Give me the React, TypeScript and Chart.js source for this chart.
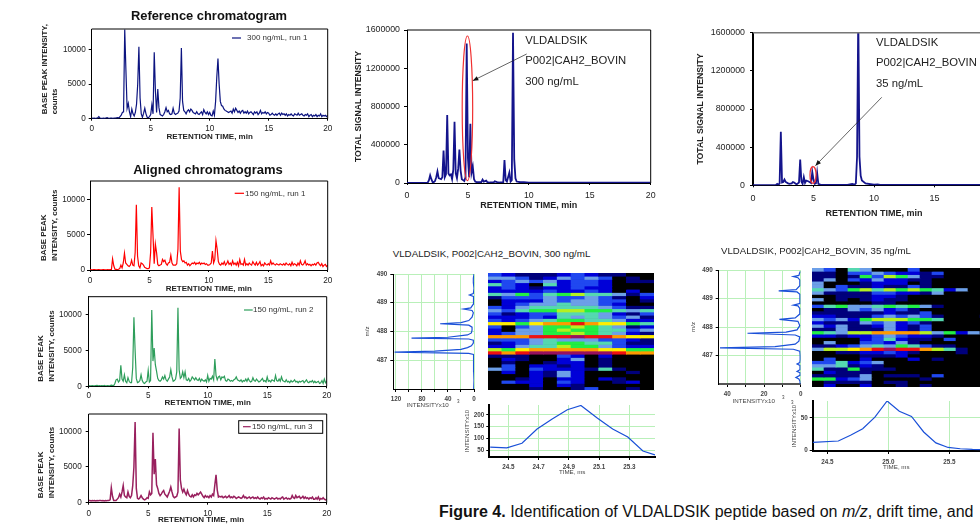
import React, { useEffect, useRef } from "react";
import { Chart, registerables } from "chart.js";

Chart.register(...registerables);

// ---------- data ----------
const run300a = [
  100,50,100,50,80,120,300,100,60,50,
  80,50,100,150,80,60,100,80,60,100,
  80,120,150,100,300,500,900,1000,12900,7000,
  1500,2200,1000,300,1400,700,400,900,2100,5000,
  10400,3000,700,200,800,1500,700,200,150,300,
  600,2000,700,9600,4000,900,4300,1600,600,500,
  400,600,1000,1600,1000,1200,700,600,700,1500,
  800,600,700,800,1100,3000,10200,2500,1200,1000,
  700,1100,1300,1000,1400,1200,900,800,700,1000,
  700,600,800,1000,600,1300,900,700,1000,600,
  900,500,400,1100,500,2500,6000,8700,5000,2500,
  1900,1800,1400,1200,1100,1000,900,1000,1100,800,
  1400,1000,1500,1200,900,1100,800,1100,1200,800,
  1000,800,1100,700,900,1000,800,600,1000,800,
  1000,600,800,1200,700,900,800,1000,700,900,
  800,500,600,800,600,500,700,500,700,800,
  500,800,600,700,500,700,400,600,500,700,
  500,400,700,600,500,800,500,600,700,500,
  400,600,500,700,300,500,600,300,500,400,
  600,300,500,400,700,300,500,400,500,300,
  500,
];
const run150a = [
  60,40,30,50,40,30,20,60,40,30,
  30,60,40,30,20,40,30,50,30,1600,
  600,100,80,60,100,200,700,300,1000,2400,
  1000,800,600,500,700,1400,700,600,2500,9300,
  2000,600,300,1000,900,700,400,300,200,200,
  300,2500,9000,5000,900,3700,2500,800,600,700,
  800,1500,1200,1400,900,700,1000,1100,2100,1000,
  700,700,700,900,3000,11800,2700,1500,1200,1300,
  1000,1100,700,900,600,800,1000,900,1100,800,
  1000,900,1100,800,1000,900,1000,800,900,700,
  700,800,1000,2700,1000,1500,4200,3000,1200,800,
  700,1000,800,1200,700,900,1300,800,1000,700,
  1300,800,1000,700,1100,600,1500,800,900,700,
  1500,700,900,700,1000,800,700,1200,900,700,
  1100,700,900,1200,600,800,600,1000,800,700,
  900,700,1300,800,1000,800,700,900,800,700,
  900,800,700,900,700,1000,800,700,900,600,
  1100,700,900,800,600,1000,700,1300,800,700,
  900,1300,700,900,700,800,600,800,700,900,
  700,1000,1100,800,600,900,500,700,800,500,
  700,
];
const run150b = [
  100,50,80,100,60,50,100,120,60,80,
  60,100,50,120,80,60,100,70,90,150,
  120,100,400,900,1000,600,800,2900,1000,700,
  1600,700,500,1200,700,500,500,2600,9600,5000,
  1100,500,600,800,1600,800,500,400,600,700,
  2200,600,800,10600,3500,5300,3000,2100,1100,800,
  700,900,1300,1000,1500,900,700,1000,1300,2300,
  1300,700,800,1000,2000,10900,2300,1100,1300,2000,
  1200,2000,900,800,1100,700,900,1300,1100,900,
  1200,900,800,1100,700,1000,800,700,900,600,
  1500,700,1100,1000,1400,900,3800,1500,900,1300,
  1400,900,1300,1200,1400,800,700,1000,900,700,
  800,700,900,1000,1300,900,800,700,900,600,
  800,700,1000,700,1100,800,600,700,1200,800,
  700,1000,800,600,700,900,1100,700,800,600,
  1300,700,800,600,900,800,700,1500,800,700,
  1000,700,1300,800,700,600,900,600,700,500,
  800,600,700,900,600,700,500,700,600,700,
  800,500,700,900,600,500,700,600,800,500,
  700,500,600,700,400,500,800,400,1000,500,
  700,
];
const run150c = [
  300,300,250,300,280,300,250,300,280,300,
  300,280,300,250,300,280,300,300,400,2100,
  900,300,300,300,500,700,1200,800,1500,2400,
  1000,800,700,1500,900,700,1000,2400,5000,11300,
  2000,600,500,700,1000,700,500,400,500,700,
  600,1500,1100,1300,9800,4000,6100,2500,2000,1300,
  1000,1200,1500,1700,1200,1000,800,1200,1600,2200,
  1500,900,700,800,900,1500,10400,3200,2000,1500,
  1900,1400,1100,1700,1200,900,800,1100,800,1100,
  1000,1300,1100,1300,1500,1200,900,700,1000,800,
  900,700,1000,800,1200,1000,2500,3900,1800,800,
  900,800,900,700,800,900,700,800,1000,700,
  800,700,900,800,600,700,800,700,600,700,
  1000,700,800,600,700,800,600,700,800,600,
  700,600,800,600,500,700,600,800,500,600,
  500,700,600,500,700,600,500,600,700,500,
  600,500,700,800,500,600,700,500,600,500,
  600,1000,700,600,1000,700,800,900,600,700,
  900,600,800,600,700,500,700,600,800,500,
  500,700,500,800,400,600,500,700,500,400,
  500,
];

const tic300Times = [0,1.7,1.8,1.9,2.0,2.1,2.2,2.3,2.4,2.5,2.6,2.8,2.9,3.0,3.1,3.2,3.3,3.4,3.5,3.6,3.7,3.8,3.9,4.0,4.1,4.2,4.3,4.4,4.5,4.6,4.7,4.8,4.9,5.0,5.1,5.2,5.3,5.4,5.5,5.6,5.7,5.9,6.1,6.2,6.3,6.5,6.6,6.8,7.1,7.2,7.4,7.6,7.9,8.0,8.1,8.2,8.4,8.5,8.6,8.7,8.8,8.9,9.0,9.3,9.6,10,20];
const tic300Values = [2000,3000,30000,80000,40000,10000,10000,20000,60000,120000,50000,40000,60000,340000,60000,90000,710000,100000,80000,90000,40000,140000,640000,100000,50000,150000,350000,130000,40000,30000,20000,60000,1460000,260000,60000,620000,110000,170000,40000,15000,10000,8000,10000,35000,15000,25000,8000,5000,5000,18000,10000,5000,8000,240000,30000,15000,110000,15000,30000,1570000,250000,50000,15000,8000,10000,3000,3000];
const tic35Times = [0,1.9,2.0,2.1,2.2,2.3,2.4,2.5,2.6,2.7,2.9,3.0,3.2,3.3,3.4,3.6,3.8,3.9,4.0,4.1,4.2,4.3,4.4,4.6,4.8,4.9,5.0,5.1,5.2,5.3,5.4,5.6,7.8,8.2,8.4,8.5,8.6,8.7,8.8,8.9,9.0,9.3,10.0,10.3,10.5,20];
const tic35Values = [2000,3000,15000,5000,20000,560000,30000,35000,60000,35000,20000,15000,20000,35000,30000,10000,30000,270000,40000,15000,85000,25000,50000,40000,25000,140000,60000,15000,20000,130000,15000,5000,5000,15000,8000,20000,300000,1800000,300000,100000,50000,20000,6000,10000,4000,3000];

const profile300Mz = [486.0,486.3,486.6,486.9,487.1,487.2,487.24,487.28,487.32,487.38,487.44,487.5,487.6,487.7,487.74,487.77,487.8,487.88,487.95,488.05,488.15,488.22,488.27,488.31,488.38,488.5,488.65,488.73,488.78,488.82,488.95,489.1,489.22,489.27,489.32,489.5,489.7,489.85,490];
const profile300Int = [0.5,0,0.5,0.5,0.5,1,8,122,60,20,10,4,1,1,8,96,40,10,4,3,3,8,52,20,8,3,1,3,16,5,1,0.5,1,7,1,0,1,1,0];
const profile35Mz = [486.0,486.1,486.18,486.23,486.3,486.4,486.44,486.5,486.65,486.7,486.75,486.85,487.0,487.15,487.22,487.27,487.31,487.4,487.5,487.65,487.72,487.78,487.82,487.9,488.05,488.2,488.27,488.32,488.45,488.65,488.74,488.77,488.82,488.95,489.15,489.23,489.27,489.31,489.45,489.65,489.73,489.77,489.81,489.95];
const profile35Int = [0.3,0.4,1,2.6,0.5,0.4,2,0.5,0.4,2,0.5,0.3,0.3,0.5,4,44,14,3,1,0.5,3,29,8,2,0.5,1.5,11.6,3,0.6,0.5,1.5,4,0.8,0.4,0.5,2,12,2.5,0.5,0.5,1.5,4,1,0.3];

const drift300Times = [24.38,24.49,24.59,24.69,24.79,24.89,24.98,25.09,25.19,25.29,25.39,25.47];
const drift300Values = [63,60,80,140,183,222,240,186,140,106,47,30];
const drift35Times = [24.38,24.59,24.69,24.79,24.89,24.99,25.09,25.19,25.29,25.39,25.49,25.59,25.69,25.79];
const drift35Values = [12,14,23,33,51,76,60,52,28,11,4,2,1,0.5];

const heat300Columns = ["24.4","24.5","24.6","24.7","24.8","24.9","25.0","25.1","25.2","25.3","25.4","25.5"];
const heat300 = [
  [3,2,1,1,1,2,3,2,1,1,0,0],
  [4,4,3,1,2,4,3,4,3,0,1,0],
  [2,3,4,3,4,2,3,3,2,0,1,1],
  [5,3,2,0,5,2,3,3,2,0,0,0],
  [2,3,2,1,2,2,3,2,2,0,0,0],
  [2,2,2,2,3,2,2,3,2,0,2,0],
  [5,4,6,3,5,6,7,5,5,4,1,3],
  [1,3,3,3,4,3,3,4,3,1,0,2],
  [0,2,2,2,4,3,4,4,3,3,0,1],
  [0,2,3,4,4,5,4,4,3,2,0,0],
  [3,2,4,5,5,5,5,5,4,3,1,1],
  [4,3,5,6,6,7,7,6,6,5,4,5],
  [3,1,2,3,3,5,5,5,4,2,1,3],
  [2,2,2,3,2,5,4,5,4,3,4,1],
  [3,2,3,4,5,6,6,5,5,4,2,2],
  [8,8,6,8,9,9,10,9,8,8,6,5],
  [3,0,3,4,6,6,7,6,5,4,1,2],
  [2,0,4,4,6,7,6,6,5,5,3,4],
  [2,3,4,4,6,6,7,6,5,4,2,1],
  [9,9,9,10,10,10,11,10,10,9,8,8],
  [3,3,3,4,5,4,4,4,3,3,2,1],
  [1,2,3,4,5,6,6,5,5,3,1,1],
  [2,2,4,5,5,7,6,6,4,3,2,2],
  [7,6,8,9,9,9,9,9,8,8,6,6],
  [10,9,10,11,11,11,11,11,11,10,9,9],
  [1,1,1,0,0,3,2,0,2,0,0,0],
  [0,2,1,0,0,2,4,0,1,0,0,0],
  [0,1,0,0,1,2,2,0,1,0,0,0],
  [0,3,0,2,2,1,2,0,1,0,0,0],
  [4,3,0,3,2,2,2,1,5,1,0,0],
  [0,2,0,2,1,4,2,0,0,0,1,0],
  [0,0,0,2,1,4,2,0,0,0,0,0],
  [0,0,1,2,0,2,2,0,2,1,0,0],
  [0,3,2,2,0,3,2,0,0,1,2,0],
  [0,0,0,2,0,2,1,0,0,0,0,0],
  [0,0,0,1,0,0,1,3,0,0,1,0],
];
const heat35Columns = ["24.4","24.5","24.6","24.7","24.8","24.9","25.0","25.1","25.2","25.3","25.4","25.5","25.6","25.7","25.8"];
const heat35 = [
  [4,3,0,5,4,0,0,0,3,0,0,0,0,0,0],
  [1,1,0,3,3,4,3,2,2,1,3,0,0,0,0],
  [1,1,0,1,6,3,7,6,4,1,1,0,0,0,0],
  [1,4,0,3,2,4,2,2,1,1,0,0,0,0,0],
  [4,0,0,0,1,2,2,2,0,1,0,0,0,0,0],
  [4,0,3,1,1,2,1,1,3,1,0,0,0,0,0],
  [5,4,3,6,7,5,7,6,7,6,5,2,4,0,0],
  [4,1,1,1,1,3,3,2,2,1,4,0,0,0,0],
  [0,0,1,1,1,2,2,1,0,0,0,0,0,0,0],
  [4,0,1,0,1,2,1,1,0,0,0,0,0,0,0],
  [0,0,0,0,0,1,1,0,0,0,0,0,0,0,0],
  [3,5,6,4,4,5,6,5,6,4,1,0,0,0,0],
  [0,1,1,4,3,4,2,3,1,0,0,0,0,0,0],
  [1,1,1,1,1,1,2,1,1,3,0,0,0,0,0],
  [2,2,1,1,1,3,4,3,4,3,1,0,0,0,1],
  [4,3,4,2,6,7,7,7,6,6,5,0,0,0,0],
  [2,1,1,1,4,3,4,2,3,1,0,0,0,0,0],
  [4,2,4,1,1,2,4,2,1,3,0,0,0,0,0],
  [1,1,4,1,1,1,4,2,1,3,0,0,0,0,0],
  [6,5,4,7,7,9,9,9,9,7,4,6,2,4,0],
  [2,2,1,2,2,3,4,3,2,2,1,0,0,0,0],
  [0,0,0,0,2,3,5,2,1,1,0,3,0,0,0],
  [0,4,0,0,3,3,2,4,1,0,0,0,0,0,0],
  [1,1,2,3,4,5,4,6,5,3,1,1,0,0,0],
  [4,7,7,8,9,10,11,10,10,9,7,5,1,0,0],
  [0,0,1,1,2,2,3,2,1,0,0,0,1,0,0],
  [0,0,0,0,1,1,1,2,0,0,0,0,0,0,0],
  [0,3,0,0,2,0,0,0,2,0,1,0,0,0,0],
  [3,3,5,2,3,4,0,0,0,0,0,0,0,0,0],
  [4,4,5,1,2,1,0,0,0,0,0,0,0,0,0],
  [5,1,1,6,1,1,1,0,0,0,0,0,0,0,0],
  [0,2,1,1,1,0,0,0,0,0,0,0,0,0,0],
  [1,1,1,1,4,0,1,1,1,0,3,0,0,0,0],
  [6,6,2,3,4,0,0,0,0,1,0,0,0,0,0],
  [0,1,1,1,1,0,1,1,0,0,0,0,0,0,0],
  [0,2,0,0,2,0,0,1,0,1,0,0,0,0,0],
];

const rtTicks = [0, 5, 10, 15, 20];
const baseTicks = [0, 5000, 10000];
const ticTicks = [0, 400000, 800000, 1200000, 1600000];
const mzTicks = [487, 488, 489, 490];
const profile300Ticks = [0, 20, 40, 60, 80, 100, 120];
const profile35Ticks = [0, 10, 20, 30, 40];
const drift300XTicks = [24.5, 24.7, 24.9, 25.1, 25.3];
const drift300YTicks = [50, 100, 150, 200];
const drift35XTicks = [24.5, 25.0, 25.5];
const drift35YTicks = [0, 50];

const ellipse300 = { x: 4.96, y: 781000, rx: 0.43, ry: 756000 };
const arrow300 = { x1: 9.82, y1: 1349000, x2: 5.4, y2: 1070000 };
const ellipse35 = { x: 4.96, y: 108000, rx: 0.25, ry: 87000 };
const arrow35 = { x1: 10.64, y1: 922600, x2: 5.16, y2: 205500 };

// ---------- drawing helpers ----------
const FONT = '"Liberation Sans", Arial, sans-serif';
const levelColors = ["#000000","#00007c","#0000d8","#2048f0","#6c9fe8","#55d8b0","#22ee44","#b4f020","#ffee00","#ff9a00","#ee1111","#99105e"];

const pts = (xs: number[], ys: number[]) => xs.map((x, i) => ({ x, y: ys[i] }));
const timeGrid = run300a.map((_, i) => i / 10);

const decorPlugin = {
  id: "decor",
  afterDatasetsDraw(chart: any, _a: any, o: any) {
    const { ctx, chartArea: c, scales } = chart;
    ctx.save();
    if (o.frame) {
      ctx.strokeStyle = o.frame.color;
      ctx.lineWidth = o.frame.width;
      ctx.beginPath();
      ctx.moveTo(c.left, c.top);
      ctx.lineTo(c.right, c.top);
      ctx.lineTo(c.right, c.bottom);
      ctx.stroke();
    }
    if (o.ellipse) {
      const e = o.ellipse;
      const cx = scales.x.getPixelForValue(e.x);
      const cy = scales.y.getPixelForValue(e.y);
      const rx = Math.abs(scales.x.getPixelForValue(e.x + e.rx) - cx);
      const ry = Math.abs(scales.y.getPixelForValue(e.y + e.ry) - cy);
      ctx.strokeStyle = "#f03030";
      ctx.lineWidth = 1.2;
      ctx.beginPath();
      ctx.ellipse(cx, cy, rx, ry, 0, 0, Math.PI * 2);
      ctx.stroke();
    }
    if (o.arrow) {
      const a = o.arrow;
      const x1 = scales.x.getPixelForValue(a.x1);
      const y1 = scales.y.getPixelForValue(a.y1);
      const x2 = scales.x.getPixelForValue(a.x2);
      const y2 = scales.y.getPixelForValue(a.y2);
      const ang = Math.atan2(y2 - y1, x2 - x1);
      ctx.strokeStyle = "#222";
      ctx.fillStyle = "#111";
      ctx.lineWidth = 0.7;
      ctx.beginPath();
      ctx.moveTo(x1, y1);
      ctx.lineTo(x2, y2);
      ctx.stroke();
      ctx.beginPath();
      ctx.moveTo(x2, y2);
      ctx.lineTo(x2 - 6 * Math.cos(ang - 0.4), y2 - 6 * Math.sin(ang - 0.4));
      ctx.lineTo(x2 - 6 * Math.cos(ang + 0.4), y2 - 6 * Math.sin(ang + 0.4));
      ctx.closePath();
      ctx.fill();
    }
    if (o.key) {
      const k = o.key;
      const ds = chart.data.datasets[0];
      const ox = chart.canvas.offsetLeft;
      const oy = chart.canvas.offsetTop;
      if (k.box) {
        ctx.strokeStyle = "#000";
        ctx.lineWidth = 1;
        ctx.strokeRect(k.box[0] - ox, k.box[1] - oy, k.box[2], k.box[3]);
      }
      ctx.strokeStyle = ds.borderColor;
      ctx.lineWidth = 1.2;
      ctx.beginPath();
      ctx.moveTo(k.x1 - ox, k.y - oy);
      ctx.lineTo(k.x2 - ox, k.y - oy);
      ctx.stroke();
      ctx.fillStyle = "#333";
      ctx.font = `8px ${FONT}`;
      ctx.textBaseline = "middle";
      ctx.textAlign = "left";
      ctx.fillText(ds.label, k.tx - ox, k.y - oy);
    }
    ctx.restore();
  },
};

type Axis = {
  min: number; max: number; ticks: number[]; reverse?: boolean;
  label?: (v: number) => string;
  title: string | string[]; titleAlign?: string;
  titleSize: number; tickSize: number; tickPad: number; tickLen?: number;
  titleBold?: boolean; titleColor?: string; tickColor?: string; tickBold?: boolean;
  grid?: string; borderWidth?: number; borderColor?: string;
};
type Panel = {
  plot: { l: number; r: number; t: number; b: number };
  canvasLeft: number; canvasBottom: number;
  x: Axis; y: Axis; xs: number[]; ys: number[];
  color: string; lineWidth: number; label: string;
  decor?: any;
};

const axisOptions = (a: Axis, horizontal: boolean, thickness: number) => ({
  type: "linear",
  min: a.min,
  max: a.max,
  reverse: !!a.reverse,
  afterBuildTicks: (s: any) => { s.ticks = a.ticks.map((value) => ({ value })); },
  afterFit: (s: any) => { if (horizontal) s.height = thickness; else s.width = thickness; },
  ticks: {
    autoSkip: false,
    maxRotation: 0,
    padding: a.tickPad,
    color: a.tickColor ?? "#222",
    font: { family: FONT, size: a.tickSize, weight: a.tickBold ? "bold" : "normal" },
    callback: (v: number) => (a.label ? a.label(v) : String(v)),
  },
  grid: {
    display: true,
    drawOnChartArea: !!a.grid,
    drawTicks: true,
    tickLength: a.tickLen ?? 3,
    color: a.grid ?? "#000",
    tickColor: "#000",
    lineWidth: 1,
  },
  border: { display: true, color: a.borderColor ?? "#000", width: a.borderWidth ?? 1 },
  title: {
    display: true,
    text: a.title,
    align: a.titleAlign ?? "center",
    padding: 0,
    color: a.titleColor ?? "#222",
    font: { family: FONT, size: a.titleSize, weight: a.titleBold === false ? "normal" : "bold", lineHeight: 1.3 },
  },
});

function LinePanel({ p }: { p: Panel }) {
  const ref = useRef<HTMLCanvasElement>(null);
  const top = Math.floor(p.plot.t) - 14;
  const right = Math.ceil(p.plot.r) + 16;
  const width = right - p.canvasLeft;
  const height = p.canvasBottom - top;
  useEffect(() => {
    const chart = new Chart(ref.current as any, {
      type: "scatter",
      data: {
        datasets: [{
          label: p.label,
          data: pts(p.xs, p.ys),
          showLine: true,
          borderColor: p.color,
          borderWidth: p.lineWidth,
          pointRadius: 0,
          tension: 0,
        }],
      },
      options: {
        responsive: false,
        animation: false,
        devicePixelRatio: 1,
        layout: {
          padding: { left: 0, top: p.plot.t - top, right: right - p.plot.r, bottom: 0 },
        },
        plugins: { legend: { display: false }, tooltip: { enabled: false }, title: { display: false }, decor: p.decor ?? {} },
        scales: {
          x: axisOptions(p.x, true, p.canvasBottom - p.plot.b),
          y: axisOptions(p.y, false, p.plot.l - p.canvasLeft),
        },
      } as any,
      plugins: [decorPlugin],
    } as any);
    return () => chart.destroy();
  }, []);
  return (
    <canvas
      ref={ref}
      width={width}
      height={height}
      style={{ position: "absolute", left: p.canvasLeft, top, width, height, display: "block" }}
    />
  );
}

function HeatPanel({ rows, columns, rect }: { rows: number[][]; columns: string[]; rect: number[] }) {
  const ref = useRef<HTMLCanvasElement>(null);
  const [l, t, w, h] = rect;
  useEffect(() => {
    const chart = new Chart(ref.current as any, {
      type: "bar",
      data: {
        labels: columns,
        datasets: rows.map((row, i) => ({
          label: `row ${i}`,
          data: row.map(() => 1),
          backgroundColor: row.map((v) => levelColors[v]),
          borderWidth: 0,
          barPercentage: 1,
          categoryPercentage: 1,
        })),
      },
      options: {
        responsive: false,
        animation: false,
        devicePixelRatio: 1,
        layout: { padding: 0 },
        plugins: { legend: { display: false }, tooltip: { enabled: false } },
        scales: {
          x: { stacked: true, display: false },
          y: { stacked: true, display: false, reverse: true, min: 0, max: rows.length },
        },
      } as any,
    } as any);
    return () => chart.destroy();
  }, []);
  return (
    <canvas
      ref={ref}
      width={w}
      height={h}
      style={{ position: "absolute", left: l, top: t, width: w, height: h, display: "block", background: "#000" }}
    />
  );
}

function Label({ x, y, size, text, bold, anchor, color, rotate }: any) {
  const tx = anchor === "middle" ? "-50%" : "0";
  return (
    <div
      style={{
        position: "absolute", left: x, top: y, whiteSpace: "pre", lineHeight: 1,
        fontFamily: FONT, fontSize: size, fontWeight: bold ? 700 : 400, color: color ?? "#222",
        transform: `translate(${tx}, -50%)${rotate ? ` rotate(${rotate}deg)` : ""}`,
      }}
    >
      {text}
    </div>
  );
}

// ---------- panel layout ----------
const RT = "RETENTION TIME, min";
const GREEN = "#b9f0b9";
const rtAxis = (title: string, size: number, tickSize: number, tickPad: number): Axis => ({
  min: 0, max: 20, ticks: rtTicks, title, titleSize: size, tickSize, tickPad, tickLen: 2,
});
const baseAxis = (max: number, title: string[], size: number, pad: number): Axis => ({
  min: 0, max, ticks: baseTicks, title, titleAlign: "start", titleSize: size, tickSize: 8.2, tickPad: pad,
});
const ticAxis = (title: string, pad: number): Axis => ({
  min: 0, max: 1600000, ticks: ticTicks, title, titleSize: 8.7, tickSize: 8.8, tickPad: pad,
});

const panels: Panel[] = [
  {
    plot: { l: 91.7, r: 327.7, t: 29, b: 118.7 }, canvasLeft: 40, canvasBottom: 142,
    x: rtAxis(RT, 8, 8.2, 3), y: baseAxis(12960, ["  BASE PEAK INTENSITY,", "  counts"], 7.85, 3),
    xs: timeGrid, ys: run300a, color: "#0c1480", lineWidth: 1.2, label: "300 ng/mL, run 1",
    decor: { frame: { color: "#000", width: 1 }, key: { x1: 232, x2: 241, tx: 247, y: 38 } },
  },
  {
    plot: { l: 90, r: 327.7, t: 181, b: 270 }, canvasLeft: 39, canvasBottom: 294,
    x: rtAxis(RT, 8, 8.2, 4), y: baseAxis(12700, ["    BASE PEAK", "    INTENSITY, counts"], 8, 2),
    xs: timeGrid, ys: run150a, color: "#ff0000", lineWidth: 1.2, label: "150 ng/mL, run 1",
    decor: { frame: { color: "#000", width: 1 }, key: { x1: 234.7, x2: 244, tx: 245, y: 193.3 } },
  },
  {
    plot: { l: 88.7, r: 326.7, t: 296.7, b: 386.3 }, canvasLeft: 36, canvasBottom: 408,
    x: rtAxis(RT, 8, 8.2, 3), y: baseAxis(12440, ["  BASE PEAK", "  INTENSITY, counts"], 8, 4),
    xs: timeGrid, ys: run150b, color: "#2e9e5b", lineWidth: 1.2, label: "150 ng/mL, run 2",
    decor: { frame: { color: "#000", width: 1 }, key: { x1: 244, x2: 252.7, tx: 253, y: 310 } },
  },
  {
    plot: { l: 88.7, r: 326.7, t: 414, b: 502.7 }, canvasLeft: 36, canvasBottom: 525,
    x: rtAxis(RT + "      ", 8, 8.2, 4), y: baseAxis(12420, ["  BASE PEAK", "  INTENSITY, counts"], 8, 4),
    xs: timeGrid, ys: run150c, color: "#99205e", lineWidth: 1.5, label: "150 ng/mL, run 3",
    decor: { frame: { color: "#000", width: 1 }, key: { x1: 243, x2: 250.7, tx: 252, y: 426.7, box: [238.7, 420.7, 84, 12.6] } },
  },
  {
    plot: { l: 407, r: 650.7, t: 30, b: 183 }, canvasLeft: 353, canvasBottom: 211,
    x: rtAxis(RT, 9, 8.8, 5), y: ticAxis("TOTAL SIGNAL INTENSITY", 4),
    xs: tic300Times, ys: tic300Values, color: "#14148c", lineWidth: 1.8, label: "300 ng/mL",
    decor: { frame: { color: "#000", width: 1 }, ellipse: ellipse300, arrow: arrow300 },
  },
  {
    plot: { l: 753, r: 995, t: 32.7, b: 185.3 }, canvasLeft: 695, canvasBottom: 219,
    x: rtAxis(RT, 9, 9, 6), y: { ...ticAxis("TOTAL SIGNAL INTENSITY", 5), borderWidth: 2 },
    xs: tic35Times, ys: tic35Values, color: "#14148c", lineWidth: 1.8, label: "35 ng/mL",
    decor: { frame: { color: "#777", width: 1.5 }, ellipse: ellipse35, arrow: arrow35 },
  },
  {
    plot: { l: 393.3, r: 474, t: 274, b: 389 }, canvasLeft: 363, canvasBottom: 409,
    x: {
      min: 0, max: 124, ticks: profile300Ticks, reverse: true,
      label: (v) => (v % 40 === 0 ? String(v) : ""),
      title: "INTENSITYx10       ", titleSize: 6.2, titleBold: false, titleColor: "#444",
      tickSize: 6.3, tickPad: 3, tickColor: "#444", tickBold: true, grid: GREEN,
    },
    y: {
      min: 486, max: 490, ticks: mzTicks, title: "m/z", titleSize: 6.2, titleBold: false, titleColor: "#444",
      tickSize: 6.3, tickPad: 3, tickColor: "#444", tickBold: true, grid: GREEN,
    },
    xs: profile300Int, ys: profile300Mz, color: "#1a50d8", lineWidth: 1.2, label: "300 ng/mL m/z profile",
  },
  {
    plot: { l: 718.7, r: 800.7, t: 270, b: 384 }, canvasLeft: 689, canvasBottom: 405,
    x: {
      min: 0, max: 44.7, ticks: profile35Ticks, reverse: true,
      label: (v) => (v % 20 === 0 ? String(v) : ""),
      title: "INTENSITYx10       ", titleSize: 6.2, titleBold: false, titleColor: "#444",
      tickSize: 6.3, tickPad: 3, tickColor: "#444", tickBold: true, grid: GREEN, borderColor: "#555", borderWidth: 2,
    },
    y: {
      min: 486, max: 490, ticks: mzTicks, title: "m/z", titleSize: 6.2, titleBold: false, titleColor: "#444",
      tickSize: 6.3, tickPad: 3, tickColor: "#444", tickBold: true, grid: GREEN, borderWidth: 1,
    },
    xs: profile35Int, ys: profile35Mz, color: "#1a50d8", lineWidth: 1.2, label: "35 ng/mL m/z profile",
  },
  {
    plot: { l: 489.3, r: 655, t: 405, b: 457 }, canvasLeft: 463, canvasBottom: 476,
    x: {
      min: 24.374, max: 25.47, ticks: drift300XTicks, label: (v) => v.toFixed(1),
      title: "TIME, ms", titleSize: 6.2, titleBold: false, titleColor: "#444",
      tickSize: 6.3, tickPad: 3, tickColor: "#444", tickBold: true, grid: GREEN, borderWidth: 2,
    },
    y: {
      min: 21.5, max: 242, ticks: drift300YTicks, title: "INTENSITYx10", titleSize: 6.2, titleBold: false, titleColor: "#444",
      tickSize: 6.3, tickPad: 2, tickColor: "#444", tickBold: true, grid: GREEN, borderWidth: 2,
    },
    xs: drift300Times, ys: drift300Values, color: "#1a50d8", lineWidth: 1.2, label: "300 ng/mL drift profile",
  },
  {
    plot: { l: 812.7, r: 992, t: 401, b: 451 }, canvasLeft: 790, canvasBottom: 471,
    x: {
      min: 24.38, max: 25.85, ticks: drift35XTicks, label: (v) => v.toFixed(1),
      title: "TIME, ms       ", titleSize: 6.2, titleBold: false, titleColor: "#444",
      tickSize: 6.3, tickPad: 4, tickColor: "#444", tickBold: true, grid: GREEN, borderWidth: 2,
    },
    y: {
      min: -1.5, max: 76, ticks: drift35YTicks, title: "INTENSITYx10", titleSize: 6.2, titleBold: false, titleColor: "#444",
      tickSize: 6.3, tickPad: 2, tickColor: "#444", tickBold: true, grid: GREEN, borderWidth: 2,
    },
    xs: drift35Times, ys: drift35Values, color: "#1a50d8", lineWidth: 1.2, label: "35 ng/mL drift profile",
  },
];

export default function App() {
  useEffect(() => {
    document.body.style.margin = "0";
    document.body.style.overflow = "hidden";
  }, []);
  return (
    <div style={{ position: "absolute", left: 0, top: 0, width: 980, height: 524, overflow: "hidden", background: "#fff", filter: "blur(0.35px)" }}>
      {panels.map((p, i) => <LinePanel key={i} p={p} />)}
      <HeatPanel rows={heat300} columns={heat300Columns} rect={[488, 273, 166, 117]} />
      <HeatPanel rows={heat35} columns={heat35Columns} rect={[812, 268, 180, 119]} />

      <Label x={209} y={15.5} size={12.9} bold anchor="middle" text="Reference chromatogram" color="#111" />
      <Label x={208} y={168.5} size={13} bold anchor="middle" text="Aligned chromatograms" color="#111" />

      <Label x={525.3} y={40.7} size={11.3} text="VLDALDSIK" />
      <Label x={525.3} y={61} size={11.3} text="P002|CAH2_BOVIN" />
      <Label x={525.3} y={82.3} size={11.3} text="300 ng/mL" />
      <Label x={876} y={43.3} size={11.3} text="VLDALDSIK" />
      <Label x={876} y={62.7} size={11.3} text="P002|CAH2_BOVIN" />
      <Label x={876} y={84} size={11.3} text="35 ng/mL" />

      <Label x={392.7} y={254} size={9.75} text="VLDALDSIK, P002|CAH2_BOVIN, 300 ng/mL" />
      <Label x={721} y={250.7} size={9.65} text="VLDALDSIK, P002|CAH2_BOVIN, 35 ng/mL" />

      <Label x={457} y={402} size={4.5} text="3" color="#444" />
      <Label x={782} y={398} size={4.5} text="3" color="#444" />
      <Label x={791} y={403} size={4.5} text="3" color="#444" />

      <div
        style={{
          position: "absolute", left: 439, top: 503.5, whiteSpace: "pre", lineHeight: 1,
          fontFamily: FONT, fontSize: 16, color: "#111",
        }}
      >
        <b>Figure 4.</b> Identification of VLDALDSIK peptide based on <i>m/z</i>, drift time, and
      </div>
    </div>
  );
}
